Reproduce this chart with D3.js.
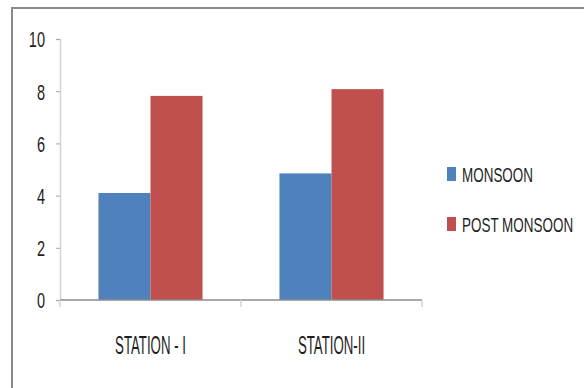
<!DOCTYPE html>
<html>
<head>
<meta charset="utf-8">
<script src="https://cdn.jsdelivr.net/npm/d3@7"></script>
<style>
  html, body { margin: 0; padding: 0; background: #fff; }
  svg { display: block; font-family: "Liberation Sans", Arial, sans-serif; }
</style>
</head>
<body>
<svg id="chart" width="584" height="388"></svg>
<script>
// Chart data
const stations = ["STATION - I", "STATION-II"];
const seasons = ["MONSOON", "POST MONSOON"];
const monsoon = [4.1, 4.85];
const postMonsoon = [7.82, 8.08];
const yTicks = [0, 2, 4, 6, 8, 10];
const seasonColors = ["#4f81bd", "#c0504d"];

const rows = stations.map((s, i) => ({ station: s, values: [monsoon[i], postMonsoon[i]] }));

const svg = d3.select("#chart");

// Frame around the chart area (top and left edges visible)
svg.append("path")
  .attr("d", "M12,392V8H590")
  .attr("fill", "none")
  .attr("stroke", "#8a8a8a")
  .attr("stroke-width", 2);

const plot = { left: 60, right: 422, top: 39, bottom: 300 };

const y = d3.scaleLinear().domain([0, 10]).range([plot.bottom, plot.top]);
const x0 = d3.scaleBand().domain(stations).range([plot.left, plot.right])
  .paddingInner(0.425).paddingOuter(0.2125);
const x1 = d3.scaleBand().domain(seasons).range([0, x0.bandwidth()]);

// Y axis
const yAxis = svg.append("g")
  .attr("transform", `translate(${plot.left},0)`)
  .call(d3.axisLeft(y).tickValues(yTicks).tickSize(4).tickPadding(0).tickFormat(d3.format("d")));
yAxis.select(".domain").attr("stroke", "#d4d4d4").attr("stroke-width", 1.5);
yAxis.selectAll(".tick line").attr("stroke", "#a6a6a6");
const numScale = 0.66;
yAxis.selectAll(".tick text")
  .attr("fill", "#1e1e1e")
  .attr("font-size", 22)
  .attr("dy", "0.36em")
  .attr("x", -15 / numScale)
  .attr("transform", `scale(${numScale},1)`);

// Bars
const groups = svg.append("g").selectAll("g")
  .data(rows).join("g")
  .attr("transform", d => `translate(${x0(d.station)},0)`);
groups.selectAll("rect")
  .data(d => d.values.map((v, i) => ({ season: seasons[i], value: v, i })))
  .join("rect")
  .attr("x", d => x1(d.season))
  .attr("width", x1.bandwidth())
  .attr("y", d => y(d.value))
  .attr("height", d => y(0) - y(d.value))
  .attr("fill", d => seasonColors[d.i]);

// X axis: baseline with category boundary ticks
const xAxis = svg.append("g");
xAxis.append("line")
  .attr("x1", plot.left).attr("x2", plot.right)
  .attr("y1", y(0)).attr("y2", y(0))
  .attr("stroke", "#8c8c8c").attr("stroke-width", 1.5);
const step = x0.step();
const bounds = [plot.left].concat(stations.map((s, i) => plot.left + step * (i + 1)));
xAxis.selectAll(".bound").data(bounds).join("line")
  .attr("class", "bound")
  .attr("x1", d => d).attr("x2", d => d)
  .attr("y1", y(0)).attr("y2", y(0) + 7)
  .attr("stroke", "#d4d4d4").attr("stroke-width", 1.5);
const catScale = 0.53;
xAxis.selectAll(".cat").data(stations).join("text")
  .attr("class", "cat")
  .attr("transform", d => `translate(${x0(d) + x0.bandwidth() / 2},354) scale(${catScale},1)`)
  .attr("text-anchor", "middle")
  .attr("font-size", 25)
  .attr("fill", "#1e1e1e")
  .text(d => d);

// Legend
const legScale = 0.69;
const legend = svg.append("g").attr("transform", "translate(447,167)");
const items = legend.selectAll("g").data(seasons).join("g")
  .attr("transform", (d, i) => `translate(0,${i * 50})`);
items.append("rect")
  .attr("width", 9).attr("height", 14)
  .attr("fill", (d, i) => seasonColors[i]);
items.append("text")
  .attr("transform", `translate(15,14.5) scale(${legScale},1)`)
  .attr("font-size", 19.5)
  .attr("fill", "#1e1e1e")
  .text(d => d);
</script>
</body>
</html>
